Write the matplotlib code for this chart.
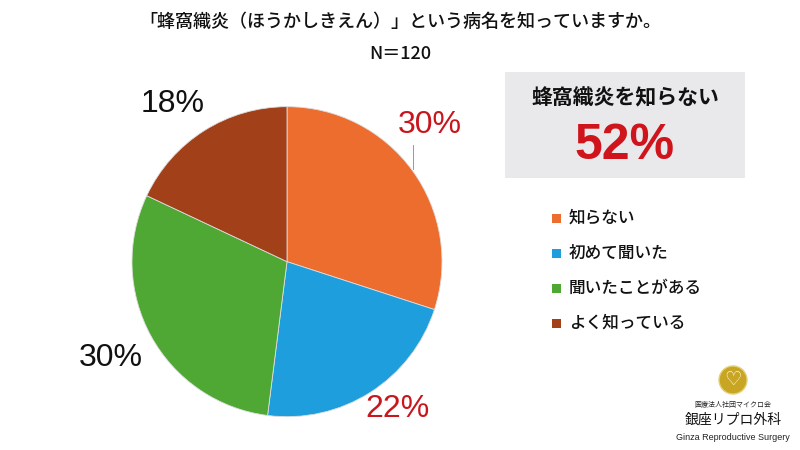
import matplotlib.pyplot as plt
from matplotlib.patches import Rectangle, Ellipse

plt.rcParams['font.family'] = ['Noto Sans CJK JP', 'DejaVu Sans']

# survey data
labels = ["知らない", "初めて聞いた", "聞いたことがある", "よく知っている"]
values = [30, 22, 30, 18]
colors = ["#EC6D2E", "#1E9EDC", "#4EA833", "#A2401A"]
pct_colors = ["#C8161D", "#C8161D", "#111111", "#111111"]
title = "「蜂窩織炎（ほうかしきえん）」という病名を知っていますか。"
n_label = "N＝120"
summary_label = "蜂窩織炎を知らない"
summary_value = "52%"

fig = plt.figure(figsize=(8, 4.5), dpi=100)
fig.patch.set_facecolor("white")

# pie
ax = fig.add_axes([0.165, 0.074, 0.3875, 0.689])
wedges, _ = ax.pie(values, colors=colors, startangle=90, counterclock=False,
                   radius=1.0, wedgeprops=dict(linewidth=0.6, edgecolor="#dddddd"))
ax.set_xlim(-1, 1)
ax.set_ylim(-1, 1)
ax.set_aspect("equal")
ax.axis("off")

# percentage labels (positions in pie data coords)
pct_pos = [(0.92, 0.88), (0.71, -0.95), (-1.14, -0.62), (-0.74, 1.02)]
for v, c, (x, y) in zip(values, pct_colors, pct_pos):
    ax.text(x, y, f"{v}%", color=c, fontsize=23, ha="center", va="center",
            family=["Liberation Sans", "Noto Sans CJK JP"], clip_on=False)
# small leader line near top label
ax.plot([0.815, 0.815], [0.75, 0.6], color="#888888", lw=0.6, clip_on=False)

# titles
fig.text(0.5, 1 - 22 / 450, title, fontsize=13, fontweight="medium",
         ha="center", va="center", color="#111111")
fig.text(0.5, 1 - 54 / 450, n_label, fontsize=13, fontweight="medium",
         ha="center", va="center", color="#111111")

# summary box
fig.patches.append(Rectangle((505 / 800, 1 - 178 / 450), 240 / 800, 106 / 450,
                             transform=fig.transFigure, facecolor="#E9E8EB",
                             edgecolor="none"))
fig.text(625 / 800, 1 - 98 / 450, summary_label, fontsize=15, fontweight="bold",
         ha="center", va="center", color="#111111")
fig.text(625 / 800, 1 - 146 / 450, summary_value, fontsize=36, fontweight="bold",
         ha="center", va="center", color="#D0141C",
         family=["Liberation Sans", "Noto Sans CJK JP"])

# legend
for i, (lab, c) in enumerate(zip(labels, colors)):
    y = 1 - (218 + 35 * i) / 450
    fig.patches.append(Rectangle((552 / 800, y - 4.5 / 450), 9 / 800, 9 / 450,
                                 transform=fig.transFigure, facecolor=c, edgecolor="none"))
    fig.text(569 / 800, y, lab, fontsize=12, fontweight="medium",
             ha="left", va="center", color="#111111")

# logo
fig.patches.append(Ellipse((733 / 800, 1 - 380 / 450), 28 / 800, 28 / 450,
                           transform=fig.transFigure, facecolor="#C9A524",
                           edgecolor="#E3CF7A", linewidth=1))
fig.text(733 / 800, 1 - 379 / 450, "♡", fontsize=14, ha="center", va="center",
         color="white", family=["DejaVu Sans"])
fig.text(733 / 800, 1 - 405 / 450, "医療法人社団マイクロ会", fontsize=5, ha="center",
         va="center", color="#222222")
fig.text(733 / 800, 1 - 420 / 450, "銀座リプロ外科", fontsize=10, ha="center",
         va="center", color="#111111")
fig.text(733 / 800, 1 - 437 / 450, "Ginza Reproductive Surgery", fontsize=6.5,
         ha="center", va="center", color="#222222",
         family=["Liberation Sans", "DejaVu Sans"])

fig.savefig("out.png", dpi=100)
